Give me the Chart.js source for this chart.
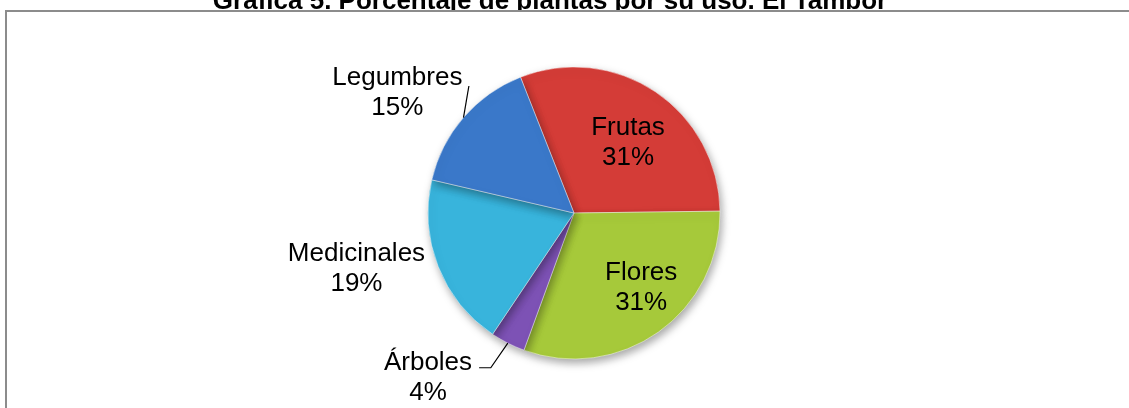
<!DOCTYPE html>
<html>
<head>
<meta charset="utf-8">
<script src="https://cdn.jsdelivr.net/npm/chart.js@4/dist/chart.umd.min.js"></script>
<style>
  html, body { margin: 0; padding: 0; background: #fff; }
  #wrap { width: 1129px; height: 408px; position: relative; }
</style>
</head>
<body>
<div id="wrap"><canvas id="pieChart" width="1129" height="408"></canvas></div>
<script>
// Data (counts -> 31%, 31%, 4%, 19%, 15%)
const categories = ['Frutas', 'Flores', 'Árboles', 'Medicinales', 'Legumbres'];
const counts = [8, 8, 1, 5, 4];
const percentLabels = ['31%', '31%', '4%', '19%', '15%'];
const sliceColors = ['#d43c37', '#a6c93a', '#7d52b5', '#38b4dc', '#3a78c9'];
const titleText = 'Gráfica 5. Porcentaje de plantas por su uso. El Tambor';

// label placement, in units of the pie radius from the centre
const labelPlace = [
    { dx: 0.37, dy: -0.48 },
    { dx: 0.46, dy: 0.51 },
    { dx: -1.0, dy: 1.13 },
    { dx: -1.49, dy: 0.38 },
    { dx: -1.21, dy: -0.82 }
];
// leader lines: from the slice edge through these points (radius units)
const leaders = {
    2: [{ dx: -0.57, dy: 1.06 }, { dx: -0.65, dy: 1.06 }],
    4: [{ dx: -0.72, dy: -0.87 }]
};

function shade(hex, f) {
    const n = parseInt(hex.slice(1), 16);
    let r = n >> 16, g = (n >> 8) & 255, b = n & 255;
    const t = f < 0 ? 0 : 255, p = Math.abs(f);
    r = Math.round((t - r) * p + r);
    g = Math.round((t - g) * p + g);
    b = Math.round((t - b) * p + b);
    return `rgb(${r},${g},${b})`;
}

function sliceFill(context) {
    const chart = context.chart;
    const meta = chart.getDatasetMeta(0);
    const arc = meta.data[context.dataIndex];
    const base = sliceColors[context.dataIndex];
    if (!arc || !arc.outerRadius) return base;
    const g = chart.ctx.createRadialGradient(arc.x - 20, arc.y - 30, 0, arc.x, arc.y, arc.outerRadius);
    g.addColorStop(0, shade(base, 0.08));
    g.addColorStop(0.85, base);
    g.addColorStop(1, shade(base, -0.22));
    return g;
}

const frame = {
    id: 'frame',
    beforeDraw(chart) {
        const ctx = chart.ctx;
        ctx.save();
        // title, clipped by the frame top
        ctx.beginPath();
        ctx.rect(0, 0, chart.width, 10);
        ctx.clip();
        ctx.fillStyle = '#000';
        ctx.font = 'bold 26px "Liberation Sans", Arial, sans-serif';
        ctx.textAlign = 'center';
        ctx.textBaseline = 'alphabetic';
        ctx.fillText(titleText, 550, 9);
        ctx.restore();
        ctx.save();
        ctx.strokeStyle = '#8c8c8c';
        ctx.lineWidth = 2;
        ctx.beginPath();
        ctx.moveTo(6, chart.height);
        ctx.lineTo(6, 11);
        ctx.lineTo(chart.width, 11);
        ctx.stroke();
        ctx.restore();
    },
    beforeDatasetsDraw(chart) {
        const ctx = chart.ctx;
        ctx.save();
        ctx.shadowColor = 'rgba(0,0,0,0.35)';
        ctx.shadowBlur = 8;
        ctx.shadowOffsetX = 2;
        ctx.shadowOffsetY = 4;
    },
    afterDatasetsDraw(chart) {
        const ctx = chart.ctx;
        ctx.restore();
        const arcs = chart.getDatasetMeta(0).data;
        const cx = arcs[0].x, cy = arcs[0].y, R = arcs[0].outerRadius;
        ctx.save();
        ctx.fillStyle = '#000';
        ctx.strokeStyle = '#000';
        ctx.lineWidth = 1.2;
        ctx.font = '26px "Liberation Sans", Arial, sans-serif';
        ctx.textAlign = 'center';
        ctx.textBaseline = 'middle';
        arcs.forEach((arc, i) => {
            const p = labelPlace[i];
            const x = cx + p.dx * R, y = cy + p.dy * R;
            ctx.fillText(categories[i], x, y - 15);
            ctx.fillText(percentLabels[i], x, y + 15);
            if (leaders[i]) {
                const mid = (arc.startAngle + arc.endAngle) / 2;
                ctx.beginPath();
                ctx.moveTo(cx + Math.cos(mid) * R, cy + Math.sin(mid) * R);
                leaders[i].forEach(q => ctx.lineTo(cx + q.dx * R, cy + q.dy * R));
                ctx.stroke();
            }
        });
        ctx.restore();
    }
};

new Chart(document.getElementById('pieChart'), {
    type: 'pie',
    data: {
        labels: categories,
        datasets: [{
            data: counts,
            backgroundColor: sliceFill,
            borderColor: 'rgba(255,255,255,0.45)',
            borderWidth: 1,
            hoverOffset: 0
        }]
    },
    options: {
        responsive: false,
        animation: false,
        rotation: -21.5,
        radius: 146,
        layout: { padding: { top: 67, bottom: 49, left: 19, right: 0 } },
        plugins: {
            legend: { display: false },
            tooltip: { enabled: false },
            title: { display: false }
        }
    },
    plugins: [frame]
});
</script>
</body>
</html>
